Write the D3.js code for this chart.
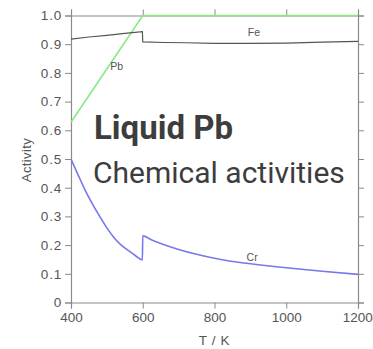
<!DOCTYPE html>
<html>
<head>
<meta charset="utf-8">
<script src="https://cdn.jsdelivr.net/npm/d3@7"></script>
<style>
  html, body { margin: 0; padding: 0; background: #fff; }
  svg { display: block; }
</style>
</head>
<body>
<svg id="chart" width="373" height="349"></svg>
<script>
// Activity of dissolved elements in liquid lead versus temperature
const temperatureTicks = [400, 600, 800, 1000, 1200];
const activityTicks = [0, 0.1, 0.2, 0.3, 0.4, 0.5, 0.6, 0.7, 0.8, 0.9, 1.0];

const pbT = [400, 600, 600, 1200];
const pbA = [0.628, 1.0, 1.0, 1.0];

const feT = [400, 450, 500, 550, 599, 600, 660, 720, 800, 900, 1000, 1100, 1200];
const feA = [0.918, 0.925, 0.931, 0.938, 0.944, 0.908, 0.906, 0.905, 0.903, 0.903, 0.904, 0.907, 0.910];

const crT = [400, 420, 440, 460, 480, 500, 520, 540, 560, 580, 599, 600, 625, 650, 700, 750, 800, 850, 900, 1000, 1100, 1200];
const crA = [0.500, 0.444, 0.390, 0.343, 0.300, 0.260, 0.226, 0.200, 0.181, 0.163, 0.148, 0.232, 0.218, 0.206, 0.185, 0.168, 0.154, 0.143, 0.135, 0.121, 0.109, 0.098];

const seriesLabels = [
  { text: "Pb", t: 527, a: 0.81 },
  { text: "Fe", t: 910, a: 0.93 },
  { text: "Cr", t: 905, a: 0.145 }
];

const svg = d3.select("#chart");
const axisColor = "#8a8a8a";
const textColor = "#555";
const tickFont = "'Liberation Sans', Arial, sans-serif";

const x = d3.scaleLinear().domain([400, 1200]).range([71, 358]);
const y = d3.scaleLinear().domain([0, 1]).range([302.5, 15.5]);

function styleAxis(g, showLabels, spacing) {
  g.selectAll(".domain").attr("stroke", axisColor).attr("stroke-width", 1.2);
  g.selectAll(".tick line").attr("stroke", axisColor).attr("stroke-width", 1);
  g.selectAll(".tick text")
    .attr("fill", textColor)
    .style("font-family", tickFont)
    .style("font-size", "13.5px")
    .style("letter-spacing", spacing);
  if (!showLabels) g.selectAll(".tick text").remove();
}

const yFmt = d => d === 0 ? "0" : d3.format(".1f")(d);

svg.append("g").attr("transform", `translate(0,${y(0)})`)
  .call(d3.axisBottom(x).tickValues(temperatureTicks).tickSize(6).tickPadding(4).tickFormat(d3.format("d")))
  .call(g => styleAxis(g, true, "0px"))
  .call(g => g.selectAll(".tick text").filter(d => d === 1200).attr("dx", "-0.8"));

svg.append("g").attr("transform", `translate(0,${y(1)})`)
  .call(d3.axisTop(x).tickValues(temperatureTicks).tickSize(6))
  .call(g => styleAxis(g, false, "0px"));

svg.append("g").attr("transform", `translate(${x(400)},0)`)
  .call(d3.axisLeft(y).tickValues(activityTicks).tickSize(6).tickPadding(3).tickFormat(yFmt))
  .call(g => styleAxis(g, true, "0.8px"));

svg.append("g").attr("transform", `translate(${x(1200)},0)`)
  .call(d3.axisRight(y).tickValues(activityTicks).tickSize(6))
  .call(g => styleAxis(g, false, "0px"));

// axis titles
svg.append("text")
  .attr("x", x(800)).attr("y", 345)
  .attr("text-anchor", "middle")
  .attr("fill", textColor)
  .style("font-family", tickFont)
  .style("font-size", "13.5px")
  .style("letter-spacing", "0.6px")
  .text("T / K");

svg.append("text")
  .attr("transform", `translate(31,160) rotate(-90)`)
  .attr("text-anchor", "middle")
  .attr("fill", textColor)
  .style("font-family", tickFont)
  .style("font-size", "13px")
  .style("letter-spacing", "0.4px")
  .text("Activity");

// curves
const line = d3.line().x(d => x(d[0])).y(d => y(d[1]));
const plot = svg.append("g");

plot.append("path")
  .datum(d3.zip(pbT, pbA))
  .attr("d", line).attr("fill", "none")
  .attr("stroke", "#86ea86").attr("stroke-width", 1.6);

plot.append("path")
  .datum(d3.zip(feT, feA))
  .attr("d", line).attr("fill", "none")
  .attr("stroke", "#555").attr("stroke-width", 1.2);

plot.append("path")
  .datum(d3.zip(crT, crA))
  .attr("d", d3.line().x(d => x(d[0])).y(d => y(d[1])).curve(d3.curveMonotoneX))
  .attr("fill", "none")
  .attr("stroke", "#7777ee").attr("stroke-width", 1.6);

plot.selectAll(".series-label")
  .data(seriesLabels)
  .join("text")
  .attr("class", "series-label")
  .attr("x", d => x(d.t)).attr("y", d => y(d.a))
  .attr("text-anchor", "middle")
  .attr("fill", "#555")
  .style("font-family", tickFont)
  .style("font-size", "10.5px")
  .text(d => d.text);

// headline
svg.append("text")
  .attr("x", 94).attr("y", 139)
  .attr("fill", "#3d3d3d")
  .style("font-family", "Roboto, sans-serif")
  .style("font-weight", "700")
  .style("font-size", "33px")
  .text("Liquid Pb");

svg.append("text")
  .attr("x", 93).attr("y", 183)
  .attr("fill", "#3d3d3d")
  .style("font-family", "Roboto, sans-serif")
  .style("font-weight", "400")
  .style("font-size", "30px")
  .text("Chemical activities");
</script>
</body>
</html>
